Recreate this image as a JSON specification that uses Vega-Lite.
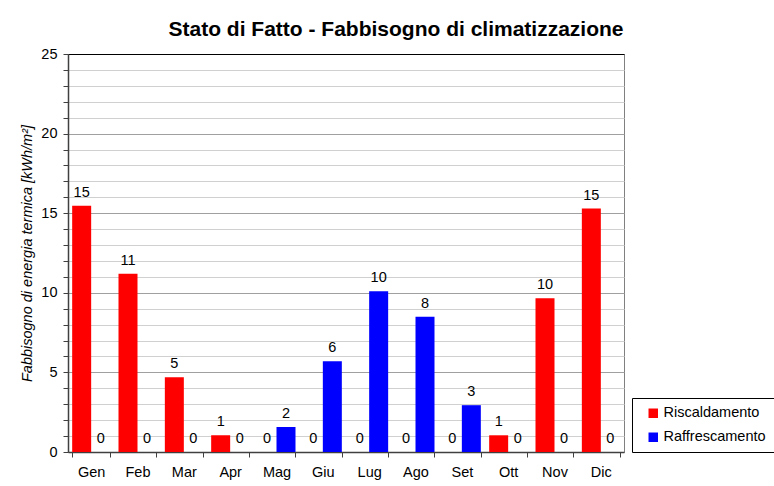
{
  "$schema": "https://vega.github.io/schema/vega-lite/v6.json",
  "width": 556,
  "height": 398,
  "autosize": "none",
  "padding": {"left": 68, "top": 54, "right": 150, "bottom": 34},
  "background": "white",
  "config": {
    "font": "Liberation Sans",
    "view": {"stroke": "#808080", "strokeWidth": 1},
    "axis": {"labelFont": "Liberation Sans", "titleFont": "Liberation Sans", "labelColor": "black", "titleColor": "black"}
  },
  "title": {
    "text": "Stato di Fatto - Fabbisogno di climatizzazione",
    "font": "Liberation Sans",
    "fontSize": 21,
    "fontWeight": "bold",
    "color": "black",
    "anchor": "middle",
    "frame": "group",
    "dx": 50,
    "offset": 6
  },
  "data": {
    "values": [
      {"mese": "Gen", "serie": "Riscaldamento", "valore": 15.47},
      {"mese": "Gen", "serie": "Raffrescamento", "valore": 0},
      {"mese": "Feb", "serie": "Riscaldamento", "valore": 11.2},
      {"mese": "Feb", "serie": "Raffrescamento", "valore": 0},
      {"mese": "Mar", "serie": "Riscaldamento", "valore": 4.7},
      {"mese": "Mar", "serie": "Raffrescamento", "valore": 0},
      {"mese": "Apr", "serie": "Riscaldamento", "valore": 1.05},
      {"mese": "Apr", "serie": "Raffrescamento", "valore": 0},
      {"mese": "Mag", "serie": "Riscaldamento", "valore": 0},
      {"mese": "Mag", "serie": "Raffrescamento", "valore": 1.57},
      {"mese": "Giu", "serie": "Riscaldamento", "valore": 0},
      {"mese": "Giu", "serie": "Raffrescamento", "valore": 5.7},
      {"mese": "Lug", "serie": "Riscaldamento", "valore": 0},
      {"mese": "Lug", "serie": "Raffrescamento", "valore": 10.09},
      {"mese": "Ago", "serie": "Riscaldamento", "valore": 0},
      {"mese": "Ago", "serie": "Raffrescamento", "valore": 8.49},
      {"mese": "Set", "serie": "Riscaldamento", "valore": 0},
      {"mese": "Set", "serie": "Raffrescamento", "valore": 2.94},
      {"mese": "Ott", "serie": "Riscaldamento", "valore": 1.05},
      {"mese": "Ott", "serie": "Raffrescamento", "valore": 0},
      {"mese": "Nov", "serie": "Riscaldamento", "valore": 9.65},
      {"mese": "Nov", "serie": "Raffrescamento", "valore": 0},
      {"mese": "Dic", "serie": "Riscaldamento", "valore": 15.29},
      {"mese": "Dic", "serie": "Raffrescamento", "valore": 0}
    ]
  },
  "encoding": {
    "x": {
      "field": "mese",
      "type": "nominal",
      "sort": ["Gen","Feb","Mar","Apr","Mag","Giu","Lug","Ago","Set","Ott","Nov","Dic"],
      "scale": {"paddingInner": 0.18, "paddingOuter": 0.09},
      "axis": {
        "title": null,
        "labelAngle": 0,
        "labelFontSize": 14.5,
        "labelPadding": 8,
        "tickBand": "extent",
        "tickSize": 5,
        "tickColor": "#404040",
        "domainColor": "#404040",
        "domainWidth": 1.5,
        "grid": false
      }
    },
    "xOffset": {
      "field": "serie",
      "type": "nominal",
      "sort": ["Riscaldamento", "Raffrescamento"],
      "scale": {"paddingInner": 0, "paddingOuter": 0}
    },
    "y": {
      "field": "valore",
      "type": "quantitative",
      "scale": {"domain": [0, 25], "nice": false},
      "axis": {
        "title": "Fabbisogno di energia termica [kWh/m²]",
        "titleFontSize": 14.5,
        "titleFontStyle": "italic",
        "titleFontWeight": "normal",
        "titlePadding": 6,
        "values": [0,1,2,3,4,5,6,7,8,9,10,11,12,13,14,15,16,17,18,19,20,21,22,23,24,25],
        "labelExpr": "datum.value % 5 == 0 ? datum.label : ''",
        "labelFontSize": 14.5,
        "labelPadding": 6,
        "tickSize": 5,
        "tickColor": "#404040",
        "domainColor": "#404040",
        "domainWidth": 1.5,
        "grid": true,
        "gridColor": {
          "condition": [
            {"test": "datum.value == 25", "value": "#000000"},
            {"test": "datum.value % 5 == 0", "value": "#a0a0a0"}
          ],
          "value": "#d0d0d0"
        },
        "gridWidth": 1
      }
    }
  },
  "layer": [
    {
      "mark": {"type": "bar"},
      "encoding": {
        "color": {
          "field": "serie",
          "type": "nominal",
          "sort": ["Riscaldamento", "Raffrescamento"],
          "scale": {"domain": ["Riscaldamento", "Raffrescamento"], "range": ["#ff0000", "#0000ff"]},
          "legend": {
            "title": null,
            "orient": "none",
            "legendX": 564,
            "legendY": 344,
            "symbolType": "square",
            "symbolSize": 90,
            "symbolStrokeWidth": 0,
            "symbolOffset": 6,
            "labelFontSize": 14.5,
            "labelFont": "Liberation Sans",
            "labelColor": "black",
            "labelOffset": 3,
            "rowPadding": 9,
            "padding": 8,
            "strokeColor": "#000000",
            "fillColor": "white"
          }
        }
      }
    },
    {
      "mark": {"type": "text", "baseline": "alphabetic", "dy": -9, "fontSize": 14.5, "font": "Liberation Sans", "color": "black"},
      "encoding": {
        "text": {"field": "valore", "type": "quantitative", "format": ".0f"}
      }
    }
  ]
}
